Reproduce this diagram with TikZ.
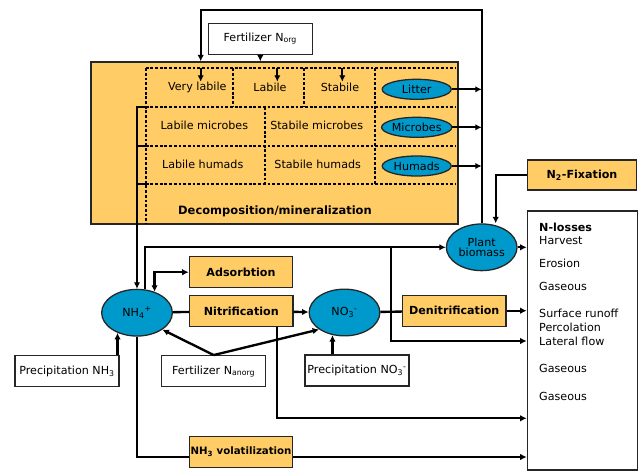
\documentclass[tikz,border=0pt]{standalone}
\usepackage{fontspec}
\setmainfont{DejaVu Sans}
\usetikzlibrary{arrows.meta,positioning,shapes.geometric}
\definecolor{soilorange}{HTML}{FFCC66}
\definecolor{poolblue}{HTML}{0099CC}
\tikzset{
  pool/.style={ellipse,draw=black!85,line width=1.1pt,fill=poolblue,inner sep=0pt,
    minimum width=2.12cm,minimum height=1.4cm},
  smallpool/.style={pool,minimum width=2.07cm,minimum height=0.6cm},
  procbox/.style={draw=black!85,line width=1.1pt,fill=soilorange,inner sep=0pt,
    minimum width=3.1cm,minimum height=0.93cm,font=\fontsize{9.5}{11}\selectfont\bfseries},
  srcbox/.style={draw=black!85,line width=1.1pt,fill=white,inner sep=0pt,
    minimum width=3.12cm,minimum height=0.93cm},
  flow/.style={line width=2pt,-{Latex[length=5.5pt,width=5.5pt]}},
  twoway/.style={line width=2pt,{Latex[length=5.5pt,width=5.5pt]}-{Latex[length=5.5pt,width=5.5pt]}},
  link/.style={line width=2pt},
  cellline/.style={line width=1.7pt,dash pattern=on 2.4pt off 1.6pt},
  losstext/.style={anchor=west,inner sep=0pt}
}

\begin{document}
\begin{tikzpicture}[x=0.03cm,y=-0.03cm,font=\fontsize{9.5}{11}\selectfont]
\path[use as bounding box,fill=white] (0,0) rectangle (639,473);

% organic pools
\node[draw=black!85,line width=1.1pt,fill=soilorange,inner sep=0pt,
  minimum width=11.01cm,minimum height=4.86cm] (soil) at (274.5,143) {};
\draw[cellline] (145.7,68.3) -- (456,68.3) (145.7,107.3) -- (456,107.3)
  (145.7,146) -- (456,146) (145.7,184.3) -- (456,184.3)
  (145.7,68.3) -- (145.7,224) (233.3,68.3) -- (233.3,107.3)
  (304,68.3) -- (304,107.3) (375,68.3) -- (375,184.3) (265,107.3) -- (265,184.3);
\node (vlabile) at (197.3,87.3) {Very labile};
\node (labile) at (270,87.3) {Labile};
\node (stabile) at (340,87.3) {Stabile};
\node (lmicro) at (204.3,125) {Labile microbes};
\node (smicro) at (316.7,125) {Stabile microbes};
\node (lhum) at (202.7,164) {Labile humads};
\node (shum) at (317.7,164) {Stabile humads};
\node[font=\fontsize{9.8}{11}\selectfont\bfseries] (decomp) at (275,211.7) {Decomposition/mineralization};
\node[smallpool] (litter) at (416.7,89.3) {Litter};
\node[smallpool] (microbes) at (416.7,127.3) {Microbes};
\node[smallpool] (humads) at (416.7,166) {Humads};

% mineral pools and processes
\node[pool] (nh4) at (137,312.7) {NH\textsubscript{4}\textsuperscript{+}};
\node[pool] (no3) at (344.5,312.5) {NO\textsubscript{3}\textsuperscript{-}};
\node[pool,align=center] (plant) at (481.7,247.3) {Plant\\[-2pt]biomass};
\node[procbox] (adsorb) at (241,272.2) {Adsorbtion};
\node[procbox] (nitri) at (241.3,311.2) {Nitrification};
\node[procbox] (denit) at (454.3,310.7) {Denitrification};
\node[procbox,font=\fontsize{8.7}{10}\selectfont\bfseries] (volat) at (241,452) {NH\textsubscript{3} volatilization};
\node[procbox,minimum width=3.28cm,minimum height=0.9cm] (n2fix) at (582,175) {N\textsubscript{2}-Fixation};

% inputs
\node[srcbox] (fnorg) at (260.3,38.7) {Fertilizer N\textsubscript{org}};
\node[srcbox] (pnh3) at (67,371.2) {Precipitation NH\textsubscript{3}};
\node[srcbox] (fanorg) at (213.7,371.2) {Fertilizer N\textsubscript{anorg}};
\node[srcbox] (pno3) at (357,370.5) {Precipitation NO\textsubscript{3}\textsuperscript{-}};

% losses
\node[draw=black!85,line width=1.1pt,fill=white,minimum width=3.3cm,minimum height=7.77cm] (nloss) at (582.3,340.5) {};
\node[losstext,font=\fontsize{9.5}{11}\selectfont\bfseries] (losshead) at (539,227.7) {N-losses};
\foreach \y/\t [count=\i] in {241/Harvest,263.7/Erosion,286/Gaseous,313.3/Surface runoff,
    327.3/Percolation,341/Lateral flow,368.3/Gaseous,396/Gaseous}
  \node[losstext] (loss\i) at (539,\y) {\t};

% flows
\coordinate (ret) at (200.7,10);
\draw[flow] (plant.north) |- (ret) -- (ret |- soil.north);
\draw[flow] (fnorg.south) -- (fnorg.south |- soil.north);
\foreach \x in {200.7,277.3,342.3}
  \draw[flow] (\x,68.3) -- (\x,81.7);
\draw[flow] (litter.east) -- (litter.east -| plant.north);
\draw[flow] (microbes.east) -- (microbes.east -| plant.north);
\draw[flow] (humads.east) -- (humads.east -| plant.north);
\draw[flow] (145.7,107.3) -| (nh4.north);
\draw[link] (145.7,146) -- (nh4.north |- 0,146);
\draw[link] (145.7,184.3) -- (nh4.north |- 0,184.3);
\draw[flow] (n2fix.west) -| ([xshift=0.42cm]plant.north);

\draw[flow] ([xshift=0.24cm]nh4.north) |- (plant.west);
\draw[flow] (plant.west -| 391,0) |- (nloss.west |- 0,341);
\draw[twoway] (nh4.50) |- (adsorb.west);
\draw[link] (nh4) -- (nitri);
\draw[flow] (nitri) -- (no3);
\draw[link] (no3) -- (denit);
\draw[flow] (denit.east) -- (denit.east -| nloss.west);
\draw[flow] (plant.east) -- (plant.east -| nloss.west);
\draw[flow] ([xshift=1.08cm]nitri.south) |- (nloss.west |- 0,418.3);
\draw[link] (nh4.south) |- ([yshift=-0.15cm]volat.west);
\draw[flow] ([yshift=-0.15cm]volat.east) -- ([yshift=-0.15cm]volat.east -| nloss.west);

\draw[flow] (pnh3.north -| nh4.226) -- (nh4.226);
\draw[flow] (fanorg.north) -- (nh4.south east);
\draw[flow] (fanorg.north) -- (no3.south west);
\draw[flow] (pno3.north -| no3.242) -- (no3.242);
\end{tikzpicture}
\end{document}
